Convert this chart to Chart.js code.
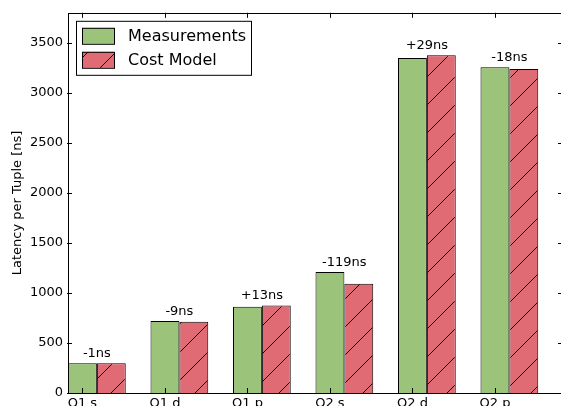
<!DOCTYPE html>
<html>
<head>
<meta charset="utf-8">
<script src="https://cdn.jsdelivr.net/npm/chart.js@4/dist/chart.umd.min.js"></script>
<style>
  html, body { margin: 0; padding: 0; background: #fff; overflow: hidden; }
  #wrap { width: 561px; height: 406px; overflow: hidden; position: relative; }
  #box { position: absolute; left: 0; top: 0; width: 580px; height: 430px; }
</style>
</head>
<body>
<div id="wrap"><div id="box"><canvas id="c"></canvas></div></div>
<script>
// Query variants along the x axis
const categories = ['Q1 s', 'Q1 d', 'Q1 p', 'Q2 s', 'Q2 d', 'Q2 p'];
// Latency per tuple in ns
const measurements = [298, 720, 862, 1210, 3347, 3256];
const costModel    = [297, 711, 875, 1091, 3376, 3238];
// Y axis tick values
const yTicks = [0, 500, 1000, 1500, 2000, 2500, 3000, 3500];

const BAR_W = 0.35;          // bar width in axis units
const GREEN = '#9bc47a';
const RED = '#e06b75';
const FONT = 'DejaVu Sans';

// Diagonal "/" hatch over the red fill
function makeHatch() {
  const s = 28;
  const p = document.createElement('canvas');
  p.width = s; p.height = s;
  const g = p.getContext('2d');
  g.fillStyle = RED;
  g.fillRect(0, 0, s, s);
  g.strokeStyle = '#000';
  g.lineWidth = 1;
  g.beginPath();
  g.moveTo(-2, s + 2); g.lineTo(s + 2, -2);
  g.moveTo(-2, 2); g.lineTo(2, -2);
  g.moveTo(s - 2, s + 2); g.lineTo(s + 2, s - 2);
  g.stroke();
  return g.createPattern(p, 'repeat');
}
const hatch = makeHatch();

// Group centre sits between the two bars; bars start at the integer index
const toPoints = vals => vals.map((v, i) => ({ x: i + BAR_W, y: v }));

// Frame, inward ticks, difference labels and legend
const decor = {
  id: 'decor',
  afterDatasetsDraw(chart) {
    const ctx = chart.ctx;
    const a = chart.chartArea;
    const xs = chart.scales.x, ys = chart.scales.y;
    ctx.save();
    ctx.strokeStyle = '#000';
    ctx.lineWidth = 1;
    // ticks
    ctx.beginPath();
    categories.forEach((c, i) => {
      const px = Math.round(xs.getPixelForValue(i + BAR_W / 2)) + 0.5;
      ctx.moveTo(px, a.bottom); ctx.lineTo(px, a.bottom - 5);
      ctx.moveTo(px, a.top); ctx.lineTo(px, a.top + 5);
    });
    yTicks.forEach(v => {
      const py = Math.round(ys.getPixelForValue(v)) + 0.5;
      ctx.moveTo(a.left - 1, py); ctx.lineTo(a.left + 4, py);
      ctx.moveTo(a.right, py); ctx.lineTo(a.right - 5, py);
    });
    ctx.stroke();
    // frame
    ctx.strokeRect(Math.round(a.left) + 0.5, Math.round(a.top) + 0.5,
                   Math.round(a.right - a.left), Math.round(a.bottom - a.top));
    // difference labels
    ctx.fillStyle = '#000';
    ctx.font = '13px "' + FONT + '"';
    ctx.textAlign = 'center';
    ctx.textBaseline = 'alphabetic';
    categories.forEach((c, i) => {
      const d = costModel[i] - measurements[i];
      const txt = (d > 0 ? '+' : '') + d + 'ns';
      const px = xs.getPixelForValue(i + BAR_W);
      const py = ys.getPixelForValue(Math.max(measurements[i], costModel[i]));
      ctx.fillText(txt, px, py - 6);
    });
    // legend
    const lx = a.left + 8, ly = a.top + 8;
    ctx.fillStyle = '#fff';
    ctx.fillRect(lx, ly, 175, 54);
    ctx.strokeRect(lx + 0.5, ly + 0.5, 175, 54);
    const items = chart.data.datasets;
    items.forEach((ds, k) => {
      const py = ly + 7 + k * 24;
      ctx.fillStyle = ds.backgroundColor;
      ctx.fillRect(lx + 6, py, 32, 16);
      ctx.strokeStyle = '#000';
      ctx.strokeRect(lx + 6.5, py + 0.5, 32, 16);
      ctx.fillStyle = '#000';
      ctx.font = '16px "' + FONT + '"';
      ctx.textAlign = 'left';
      ctx.textBaseline = 'middle';
      ctx.fillText(ds.label, lx + 52, py + 9);
    });
    ctx.restore();
  }
};

new Chart(document.getElementById('c'), {
  type: 'bar',
  data: {
    datasets: [
      { label: 'Measurements', data: toPoints(measurements), backgroundColor: GREEN,
        borderColor: '#000', borderWidth: 1 },
      { label: 'Cost Model', data: toPoints(costModel), backgroundColor: hatch,
        borderColor: '#000', borderWidth: 1 }
    ]
  },
  options: {
    responsive: true,
    maintainAspectRatio: false,
    animation: false,
    categoryPercentage: 2 * BAR_W,
    barPercentage: 1.0,
    layout: { padding: { left: 0, top: 11, right: 17, bottom: 0 } },
    plugins: { legend: { display: false }, tooltip: { enabled: false } },
    scales: {
      x: {
        type: 'linear',
        offset: false,
        min: 0, max: categories.length,
        grid: { display: false, drawTicks: false, offset: false },
        border: { display: false },
        afterBuildTicks: s => { s.ticks = categories.map((c, i) => ({ value: i + BAR_W / 2 })); },
        afterFit: s => { s.height = 37; },
        ticks: {
          padding: 3,
          color: '#000',
          font: { family: FONT, size: 13 },
          maxRotation: 0,
          callback: (v, i) => categories[i]
        }
      },
      y: {
        min: 0, max: 3800,
        grid: { display: false, drawTicks: false },
        border: { display: false },
        afterBuildTicks: s => { s.ticks = yTicks.map(v => ({ value: v })); },
        afterFit: s => { s.width = 68; },
        ticks: { padding: 5, color: '#000', font: { family: FONT, size: 13 },
                 callback: v => String(v) },
        title: {
          display: true,
          text: 'Latency per Tuple [ns]',
          color: '#000',
          font: { family: FONT, size: 13 },
          padding: { top: 10, bottom: 0 }
        }
      }
    }
  },
  plugins: [decor]
});
</script>
</body>
</html>
